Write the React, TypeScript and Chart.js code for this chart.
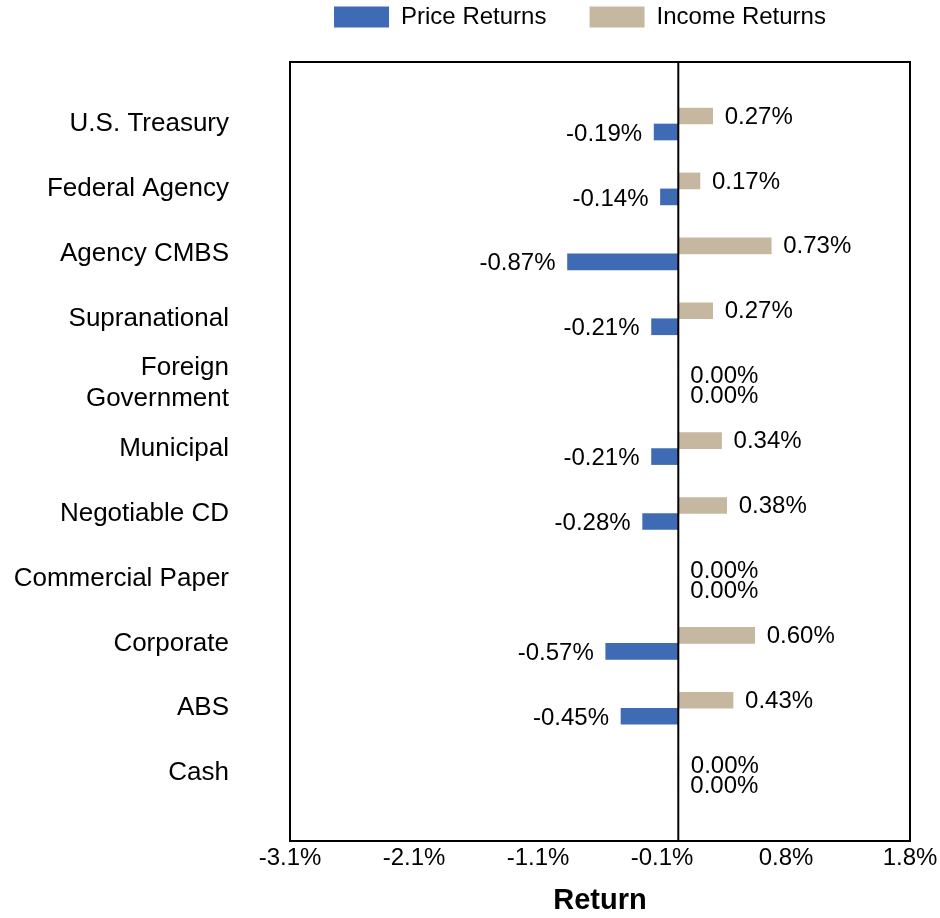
import React, { useEffect, useRef } from 'react';
import { Chart, registerables } from 'chart.js';

Chart.register(...registerables);

const CATEGORIES: (string | string[])[] = [
  'U.S. Treasury',
  'Federal Agency',
  'Agency CMBS',
  'Supranational',
  ['Foreign', 'Government'],
  'Municipal',
  'Negotiable CD',
  'Commercial Paper',
  'Corporate',
  'ABS',
  'Cash',
];

const PRICE_RETURNS = [-0.19, -0.14, -0.87, -0.21, 0, -0.21, -0.28, 0, -0.57, -0.45, 0];
const INCOME_RETURNS = [0.27, 0.17, 0.73, 0.27, 0, 0.34, 0.38, 0, 0.6, 0.43, 0.004];

const SERIES_NAMES = ['Price Returns', 'Income Returns'];

const X_TICK_VALUES = [-3.05, -2.076, -1.102, -0.128, 0.846, 1.82];
const X_TICK_LABELS = ['-3.1%', '-2.1%', '-1.1%', '-0.1%', '0.8%', '1.8%'];

const FONT = '"Liberation Sans", Arial, Helvetica, sans-serif';
const BLUE = '#3E6BB3';
const TAN = '#C6B7A1';

const frameAndLabels = {
  id: 'frameAndLabels',
  afterDatasetsDraw(chart: any) {
    const { ctx, chartArea } = chart;
    const xScale = chart.scales.x;
    ctx.save();
    // zero line
    const zx = xScale.getPixelForValue(0);
    ctx.strokeStyle = '#000';
    ctx.lineWidth = 2;
    ctx.beginPath();
    ctx.moveTo(zx, chartArea.top);
    ctx.lineTo(zx, chartArea.bottom);
    ctx.stroke();
    // frame
    ctx.strokeRect(chartArea.left, chartArea.top, chartArea.right - chartArea.left, chartArea.bottom - chartArea.top);

    // value labels
    ctx.font = `24px ${FONT}`;
    ctx.fillStyle = '#000';
    ctx.textBaseline = 'middle';
    const incMeta = chart.getDatasetMeta(0);
    const prMeta = chart.getDatasetMeta(1);
    const draw = (el: any, v: number, y: number) => {
      const text = v.toFixed(2) + '%';
      if (v >= 0) {
        ctx.textAlign = 'left';
        ctx.fillText(text, Math.max(el.x, el.base) + 12, y);
      } else {
        ctx.textAlign = 'right';
        ctx.fillText(text, Math.min(el.x, el.base) - 12, y);
      }
    };
    for (let i = 0; i < CATEGORIES.length; i++) {
      const ie = incMeta.data[i];
      const pe = prMeta.data[i];
      if (!ie || !pe) continue;
      const iv = INCOME_RETURNS[i];
      const pv = PRICE_RETURNS[i];
      const iy = ie.y + 1;
      let py = pe.y + 2;
      if ((iv >= 0) === (pv >= 0) && py - iy < 20) py = iy + 20;
      draw(ie, iv, iy);
      draw(pe, pv, py);
    }
    ctx.restore();
  },
};

const LEGEND_PAD: Record<string, string> = {
  'Price Returns': '     \u2009',
  'Income Returns': '      ',
};

export default function App() {
  const ref = useRef<HTMLCanvasElement | null>(null);

  useEffect(() => {
    if (!ref.current) return;
    const chart = new Chart(ref.current, {
      type: 'bar',
      data: {
        labels: CATEGORIES.map((_, i) => i),
        datasets: [
          {
            label: SERIES_NAMES[1],
            data: INCOME_RETURNS,
            backgroundColor: TAN,
            borderColor: TAN,
            borderWidth: 0,
            barThickness: 16,
          },
          {
            label: SERIES_NAMES[0],
            data: PRICE_RETURNS,
            backgroundColor: BLUE,
            borderColor: BLUE,
            borderWidth: 0,
            barThickness: 16,
          },
        ],
      },
      options: {
        indexAxis: 'y',
        animation: false,
        responsive: true,
        maintainAspectRatio: false,
        layout: { padding: { left: 0, right: 30, top: 0, bottom: 0 } },
        scales: {
          x: {
            type: 'linear',
            min: -3.05,
            max: 1.82,
            offset: false,
            afterBuildTicks: (s: any) => {
              s.ticks = X_TICK_VALUES.map((v) => ({ value: v }));
            },
            afterFit: (s: any) => {
              s.height = 77;
            },
            grid: {
              display: true,
              drawOnChartArea: false,
              drawTicks: true,
              tickLength: 3,
              tickColor: 'rgba(0,0,0,0)',
              color: 'rgba(0,0,0,0)',
            },
            border: { display: false },
            ticks: {
              autoSkip: false,
              maxRotation: 0,
              padding: 0,
              color: '#000',
              font: { family: FONT, size: 24 },
              callback: (_v: any, i: number) => X_TICK_LABELS[i],
            },
            title: {
              display: true,
              text: 'Return',
              color: '#000',
              font: { family: FONT, size: 29, weight: 'bold' },
              padding: { top: 0, bottom: 0 },
            },
          },
          y: {
            type: 'linear',
            reverse: true,
            offset: false,
            min: -0.955,
            max: 11.045,
            afterBuildTicks: (s: any) => {
              s.ticks = CATEGORIES.map((_, i) => ({ value: i }));
            },
            afterFit: (s: any) => {
              s.width = 290;
            },
            grid: {
              display: true,
              drawOnChartArea: false,
              drawTicks: true,
              tickLength: 59,
              tickColor: 'rgba(0,0,0,0)',
              color: 'rgba(0,0,0,0)',
              offset: false,
            },
            border: { display: false },
            ticks: {
              autoSkip: false,
              padding: 2,
              color: '#000',
              font: { family: FONT, size: 26 },
              callback: (v: any) => CATEGORIES[Math.round(Number(v))] as any,
            },
          },
        },
        plugins: {
          legend: {
            position: 'top',
            fullSize: false,
            reverse: true,
            labels: {
              boxWidth: 55,
              boxHeight: 21,
              padding: 5,
              color: '#000',
              font: { family: FONT, size: 24 },
              generateLabels: (c: any) =>
                Chart.defaults.plugins.legend.labels
                  .generateLabels(c)
                  .map((it: any) => ({ ...it, text: it.text + (LEGEND_PAD[it.text] || '') })),
            },
          },
          title: {
            display: true,
            text: '',
            position: 'top',
            weight: 500,
            font: { size: 10, lineHeight: 1 },
            padding: { top: 0, bottom: 13 },
          } as any,
          tooltip: { enabled: false },
        },
      } as any,
      plugins: [frameAndLabels],
    });
    return () => chart.destroy();
  }, []);

  return (
    <div style={{ position: 'absolute', left: 0, top: 0, width: 940, height: 918 }}>
      <canvas ref={ref} />
    </div>
  );
}
